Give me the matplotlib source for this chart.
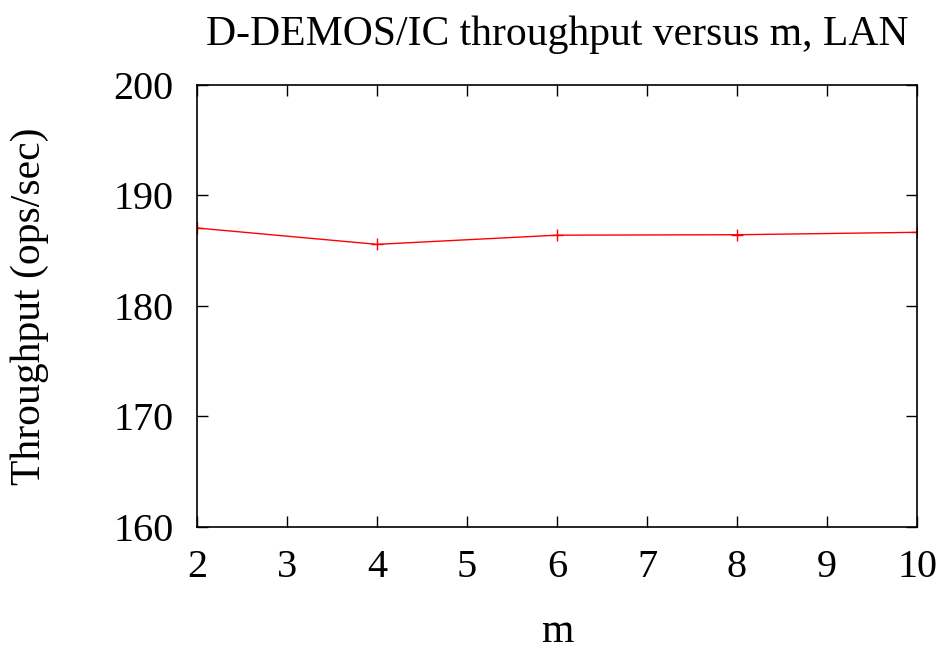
import matplotlib
matplotlib.use("Agg")
import matplotlib.pyplot as plt

m_values = [2, 4, 6, 8, 10]
throughput = [187.05, 185.57, 186.4, 186.44, 186.66]
x_ticks = [2, 3, 4, 5, 6, 7, 8, 9, 10]
y_ticks = [160, 170, 180, 190, 200]

plt.rcParams['font.family'] = ['Liberation Serif', 'DejaVu Serif']

fig = plt.figure(figsize=(9.49, 6.51), dpi=100)
ax = fig.add_axes([0.2076, 0.191, 0.7587, 0.6784])

ax.plot(m_values, throughput, color='red', linewidth=1, marker='+', markersize=9, markeredgewidth=1)

ax.set_xlim(2, 10)
ax.set_ylim(160, 200)
ax.set_xticks(x_ticks)
ax.set_yticks(y_ticks)
ax.tick_params(direction='in', length=8, width=1, top=True, right=True, labelsize=29)
ax.tick_params(axis='y', pad=17)
ax.tick_params(axis='x', pad=16)
for s in ax.spines.values():
    s.set_linewidth(1.2)

# title placed by hand, gnuplot puts it well above the frame
ax.text(0.5, 1.113, 'D-DEMOS/IC throughput versus m, LAN', fontsize=30,
        ha='center', va='center', transform=ax.transAxes)
ax.set_xlabel('m', fontsize=30)
ax.xaxis.set_label_coords(0.5, -0.238)
ax.xaxis.label.set_verticalalignment('center')
ax.set_ylabel('Throughput (ops/sec)', fontsize=30)
ax.yaxis.set_label_coords(-0.232, 0.5)
ax.yaxis.label.set_verticalalignment('center')

fig.savefig('out.png', dpi=100)
